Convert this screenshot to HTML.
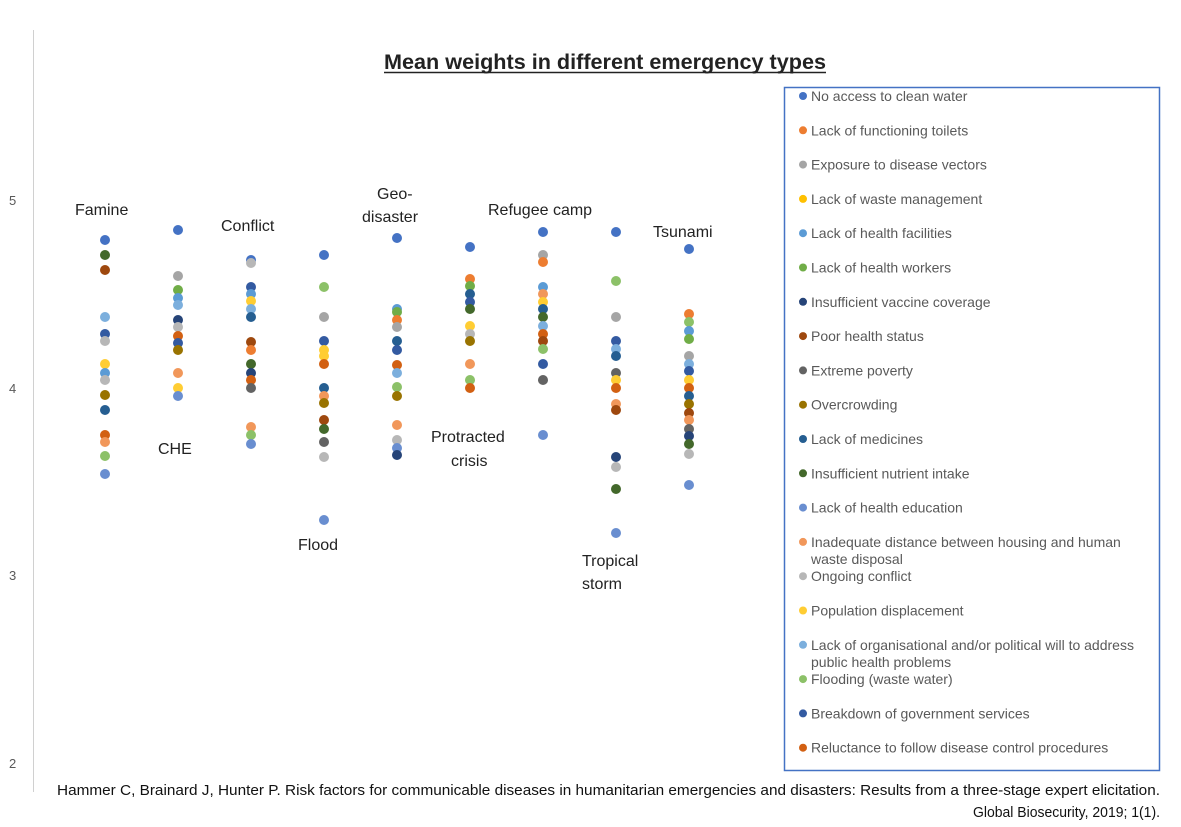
<!DOCTYPE html>
<html><head><meta charset="utf-8"><style>
html,body{margin:0;padding:0;background:#fff;}
svg{display:block;font-family:"Liberation Sans",sans-serif;}
</style></head><body>
<svg id="s" width="1181" height="827" viewBox="0 0 1181 827" xmlns="http://www.w3.org/2000/svg">
<rect width="1181" height="827" fill="#fff"/>
<line x1="33.5" y1="30" x2="33.5" y2="792" stroke="#d0d0d0" stroke-width="1"/>
<g font-size="13" fill="#595959">
<text x="9" y="205">5</text><text x="9" y="393">4</text><text x="9" y="580">3</text><text x="9" y="768">2</text>
</g>
<text x="384" y="69" font-size="21" font-weight="bold" fill="#222" textLength="442" lengthAdjust="spacingAndGlyphs">Mean weights in different emergency types</text>
<line x1="384" y1="72.5" x2="826" y2="72.5" stroke="#222" stroke-width="1.5"/>
<g font-size="16" fill="#222">
<text x="75" y="215">Famine</text>
<text x="158" y="454">CHE</text>
<text x="221" y="231">Conflict</text>
<text x="298" y="550">Flood</text>
<text x="377" y="199">Geo-</text><text x="362" y="222">disaster</text>
<text x="431" y="442">Protracted</text><text x="451" y="466">crisis</text>
<text x="488" y="215">Refugee camp</text>
<text x="582" y="566">Tropical</text><text x="582" y="589">storm</text>
<text x="653" y="237">Tsunami</text>
</g>
<rect x="784.5" y="87.5" width="375" height="683" fill="none" stroke="#4472C4" stroke-width="1.5"/>
<g id="dots"></g>
<g id="leg" font-size="14" fill="#595959"></g>
<g font-size="15" fill="#111">
<text x="57" y="795" textLength="1103" lengthAdjust="spacingAndGlyphs">Hammer C, Brainard J, Hunter P. Risk factors for communicable diseases in humanitarian emergencies and disasters: Results from a three-stage expert elicitation.</text>
<text x="973" y="817" textLength="187" lengthAdjust="spacingAndGlyphs">Global Biosecurity, 2019; 1(1).</text>
</g>
</svg>
<script>
var C=[null,"#4472C4","#ED7D31","#A5A5A5","#FFC000","#5B9BD5","#70AD47","#264478","#9E480E","#636363","#997300","#255E91","#43682B","#698ED0","#F1975A","#B7B7B7","#FFCD33","#7CAFDD","#8CC168","#335AA1","#D26012"];
var cols=[
[105,[[240,1],[255,12],[270,8],[317,17],[334,19],[341,15],[364,16],[373,5],[380,15],[395,10],[410,11],[435,20],[442,14],[456,18],[474,13]]],
[178,[[230,1],[276,3],[290,6],[298,5],[305,17],[320,7],[327,15],[336,20],[343,19],[350,10],[373,14],[388,16],[396,13]]],
[251,[[260,1],[263,15],[287,19],[294,5],[301,16],[309,17],[317,11],[342,8],[350,2],[364,12],[373,7],[380,20],[388,9],[427,14],[435,18],[444,13]]],
[324,[[255,1],[287,18],[317,3],[341,19],[350,16],[356,16],[364,20],[388,11],[396,14],[403,10],[420,8],[429,12],[442,9],[457,15],[520,13]]],
[397,[[238,1],[309,5],[312,6],[320,2],[327,3],[341,11],[350,19],[365,20],[373,17],[387,18],[396,10],[425,14],[440,15],[448,13],[455,7]]],
[470,[[247,1],[279,2],[286,6],[294,11],[302,19],[309,12],[326,16],[334,15],[341,10],[364,14],[380,18],[388,20]]],
[543,[[232,1],[255,3],[262,2],[287,5],[294,14],[302,16],[309,11],[317,12],[326,17],[334,20],[341,8],[349,18],[364,19],[380,9],[435,13]]],
[616,[[232,1],[281,18],[317,3],[341,19],[349,17],[356,11],[373,9],[380,16],[388,20],[404,14],[410,8],[457,7],[467,15],[489,12],[533,13]]],
[689,[[249,1],[314,2],[322,18],[331,5],[339,6],[356,3],[364,17],[371,19],[380,16],[388,20],[396,11],[404,10],[413,8],[420,14],[429,9],[436,7],[444,12],[454,15],[485,13]]]];
var ns="http://www.w3.org/2000/svg",g=document.getElementById("dots");
cols.forEach(function(c){c[1].forEach(function(d){var e=document.createElementNS(ns,"circle");e.setAttribute("cx",c[0]);e.setAttribute("cy",d[0]);e.setAttribute("r",5);e.setAttribute("fill",C[d[1]]);g.appendChild(e);});});
var L=["No access to clean water","Lack of functioning toilets","Exposure to disease vectors","Lack of waste management","Lack of health facilities","Lack of health workers","Insufficient vaccine coverage","Poor health status","Extreme poverty","Overcrowding","Lack of medicines","Insufficient nutrient intake","Lack of health education",["Inadequate distance between housing and human","waste disposal"],"Ongoing conflict","Population displacement",["Lack of organisational and/or political will to address","public health problems"],"Flooding (waste water)","Breakdown of government services","Reluctance to follow disease control procedures"];
var lg=document.getElementById("leg");
L.forEach(function(t,i){var y=96+i*34.3;var e=document.createElementNS(ns,"circle");e.setAttribute("cx",803);e.setAttribute("cy",y);e.setAttribute("r",4);e.setAttribute("fill",C[i+1]);lg.appendChild(e);
var a=Array.isArray(t)?t:[t];a.forEach(function(s,j){var x=document.createElementNS(ns,"text");x.setAttribute("x",811);x.setAttribute("y",y+5+j*17);x.textContent=s;lg.appendChild(x);});});
</script>
</body></html>
